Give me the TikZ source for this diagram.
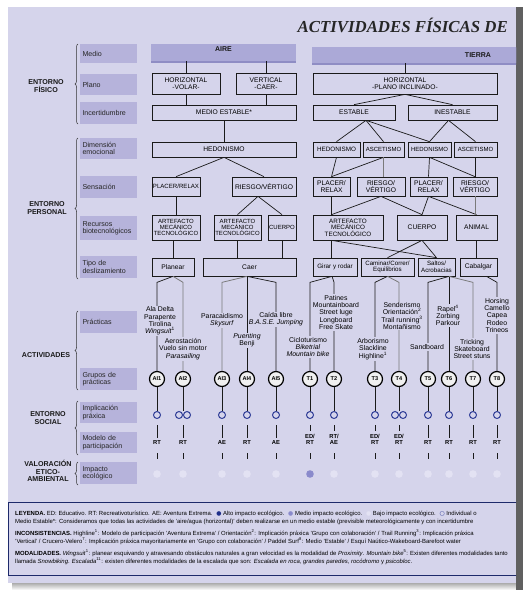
\documentclass[tikz,border=0pt]{standalone}
\usepackage{fontspec}
\setmainfont{Liberation Sans}
\newfontfamily\titlefont{Liberation Serif}
\newfontfamily\symfont{DejaVu Sans}
\usetikzlibrary{calc,decorations.pathreplacing}
\definecolor{bgc}{HTML}{D5D4EB}
\definecolor{labc}{HTML}{B6B3DB}
\definecolor{headc}{HTML}{ABA9D7}
\definecolor{headsh}{HTML}{8F8DC4}
\definecolor{ringc}{HTML}{2E3C96}
\definecolor{navy}{HTML}{1E2A6B}
\definecolor{lowc}{HTML}{E3E2F3}
\definecolor{medc}{HTML}{8A8ACB}
\definecolor{altc}{HTML}{1F2F8A}
\definecolor{linec}{HTML}{1A1A1A}
\definecolor{greyl}{HTML}{7A7A7A}
\begin{document}
\begin{tikzpicture}[x=1pt,y=-1pt,
  bx/.style={draw=linec, line width=0.7pt, fill=bgc, inner sep=0pt, align=center, font=\fontsize{6.7}{7}\selectfont},
  lab/.style={fill=labc, text width=52, align=left, inner xsep=2.5pt, inner ysep=0pt, font=\fontsize{7.1}{7.4}\selectfont, text=black!85},
  head/.style={fill=headc, inner sep=0pt},
  headt/.style={font=\bfseries\fontsize{7}{7}\selectfont, text=black!90, inner sep=0.5pt},
  grp/.style={circle, draw=black, line width=1.2pt, fill=gray!12, minimum size=15, inner sep=0pt, font=\bfseries\fontsize{5.6}{6}\selectfont},
  ring/.style={circle, draw=ringc, line width=1pt, minimum size=7, inner sep=0pt},
  mod/.style={inner xsep=0.5pt, inner ysep=3pt, align=center, font=\bfseries\fontsize{5.8}{6.3}\selectfont},
  dotc/.style={circle, fill=lowc, minimum size=7.6, inner sep=0pt},
  prac/.style={fill=bgc, inner sep=1pt, align=center, font=\fontsize{6.9}{7.3}\selectfont},
  conn/.style={draw=linec, line width=0.7pt},
  gconn/.style={draw=greyl, line width=0.8pt},
  grpl/.style={font=\bfseries\fontsize{7.1}{7.6}\selectfont, align=center, text=black!90},
  brc/.style={decorate, decoration={brace, amplitude=3pt}, line width=0.5pt, draw=black!80},
  legt/.style={anchor=base west, align=left, inner sep=0pt, font=\fontsize{5.95}{8}\selectfont}
]
\useasboundingbox (0,0) rectangle (523,595);
\fill[white] (0,0) rectangle (523,595);
% panel and shadows
\shade[top color=gray!65, bottom color=white] (12,583) rectangle (516,590);
\fill[bgc] (8,7) rectangle (516,583);
\fill[gray!75!black] (516,7) rectangle (523,590);

% title
\node[anchor=east, font=\titlefont\bfseries\itshape\fontsize{16.8}{17}\selectfont, text=black!85, inner sep=0pt] (title) at (508,25) {ACTIVIDADES FÍSICAS DE};

% row labels
\node[lab, minimum height=19] (lmed) at (108.5,53.5) {Medio};
\node[lab, minimum height=21] (lpla) at (108.5,84.5) {Plano};
\node[lab, minimum height=22] (linc) at (108.5,113) {Incertidumbre};
\node[lab, minimum height=21] (ldim) at (108.5,148.5) {Dimensión\\emocional};
\node[lab, minimum height=22] (lsen) at (108.5,187) {Sensación};
\node[lab, minimum height=24] (lrec) at (108.5,228) {Recursos\\biotecnológicos};
\node[lab, minimum height=22] (ltip) at (108.5,267) {Tipo de\\deslizamiento};
\node[lab, minimum height=22] (lpra) at (108.5,322) {Prácticas};
\node[lab, minimum height=22] (lgru) at (108.5,379) {Grupos de\\prácticas};
\node[lab, minimum height=21] (limp) at (108.5,412.5) {Implicación\\práxica};
\node[lab, minimum height=21] (lmod) at (108.5,442.5) {Modelo de\\participación};
\node[lab, minimum height=22] (lipa) at (108.5,473) {Impacto\\ecológico};

% group labels and braces
\node[grpl] (gfis) at (46,86) {ENTORNO\\FÍSICO};
\draw[brc] (78,124) -- (78,44);
\node[grpl] (gper) at (47,208) {ENTORNO\\PERSONAL};
\draw[brc] (78,279) -- (78,138);
\node[grpl] (gact) at (46,355) {ACTIVIDADES};
\draw[brc] (78,390) -- (78,311);
\node[grpl] (gsoc) at (48,418) {ENTORNO\\SOCIAL};
\draw[brc] (78,455) -- (78,401);
\node[grpl] (gval) at (48,471) {VALORACIÓN\\ETICO-\\AMBIENTAL};
\draw[brc] (78,485) -- (78,462);

% headers
\fill[headsh] (151,46) rectangle (296,62.5);
\node[head, minimum width=145, minimum height=17] (aire) at (223.5,52.5) {};
\node[headt] (airet) at ($(aire.north)+(0,5)$) {AIRE};
\begin{scope}
\clip (8,7) rectangle (516,583);
\fill[headsh] (312,48) rectangle (540,64.5);
\node[head, minimum width=228, minimum height=16] (tierra) at (426,55) {};
\end{scope}
\node[headt] (tierrat) at (478,55.5) {TIERRA};

% plano
\node[bx, minimum width=68, minimum height=21] (hv) at (186,83.5) {HORIZONTAL\\-VOLAR-};
\node[bx, minimum width=60, minimum height=21] (vc) at (266,83.5) {VERTICAL\\-CAER-};
\node[bx, minimum width=184, minimum height=21] (hpi) at (405,83.5) {HORIZONTAL\\-PLANO INCLINADO-};
% incertidumbre
\node[bx, minimum width=144, minimum height=15] (me) at (224,112.5) {MEDIO ESTABLE*};
\node[bx, minimum width=82, minimum height=15] (est) at (354,112.5) {ESTABLE};
\node[bx, minimum width=89, minimum height=15] (ine) at (452.5,112.5) {INESTABLE};
% dimension
\node[bx, minimum width=144, minimum height=15] (hA) at (224,149.5) {HEDONISMO};
\node[bx, minimum width=47, minimum height=15, font=\fontsize{6.3}{7}\selectfont] (h1) at (336.5,149.5) {HEDONISMO};
\node[bx, minimum width=41, minimum height=15, font=\fontsize{6.0}{7}\selectfont] (a1) at (383.5,149.5) {ASCETISMO};
\node[bx, minimum width=43, minimum height=15, font=\fontsize{6.0}{7}\selectfont] (h2) at (429.5,149.5) {HEDONISMO};
\node[bx, minimum width=43, minimum height=15, font=\fontsize{6.0}{7}\selectfont] (a2) at (475.5,149.5) {ASCETISMO};
% sensacion
\node[bx, minimum width=48, minimum height=19, font=\fontsize{6.1}{7}\selectfont] (pA) at (176,186.5) {PLACER/RELAX};
\node[bx, minimum width=64, minimum height=19] (rA) at (264,186.5) {RIESGO/VÉRTIGO};
\node[bx, minimum width=37, minimum height=19] (p1) at (331.5,186.5) {PLACER/\\RELAX};
\node[bx, minimum width=48, minimum height=19] (r1) at (381,186.5) {RIESGO/\\VÉRTIGO};
\node[bx, minimum width=37, minimum height=19] (p2) at (428.5,186.5) {PLACER/\\RELAX};
\node[bx, minimum width=44, minimum height=19] (r2) at (475,186.5) {RIESGO/\\VÉRTIGO};
% recursos
\node[bx, minimum width=48, minimum height=25, font=\fontsize{6.0}{6.4}\selectfont] (art1) at (176,227.5) {ARTEFACTO\\MECÁNICO\\TECNOLÓGICO};
\node[bx, minimum width=47, minimum height=25, font=\fontsize{6.0}{6.4}\selectfont] (art2) at (237.5,227.5) {ARTEFACTO\\MECÁNICO\\TECNOLÓGICO};
\node[bx, minimum width=28, minimum height=25, font=\fontsize{6.0}{6.4}\selectfont] (cuA) at (282,227.5) {CUERPO};
\node[bx, minimum width=70, minimum height=25, font=\fontsize{6.3}{6.6}\selectfont] (artT) at (348,227.5) {ARTEFACTO\\MECÁNICO\\TECNOLÓGICO};
\node[bx, minimum width=50, minimum height=25] (cuT) at (422,227.5) {CUERPO};
\node[bx, minimum width=41, minimum height=25] (an) at (476.5,227.5) {ANIMAL};
% tipo
\node[bx, minimum width=42, minimum height=18] (pl) at (173,267) {Planear};
\node[bx, minimum width=93, minimum height=18] (ca) at (249.5,267) {Caer};
\node[bx, minimum width=44, minimum height=18, font=\fontsize{6.3}{7}\selectfont] (gi) at (335,267) {Girar y rodar};
\node[bx, minimum width=53, minimum height=18, font=\fontsize{6.2}{6.6}\selectfont] (cm) at (387.5,267) {Caminar/Correr/\\Equilibrios};
\node[bx, minimum width=37, minimum height=18, font=\fontsize{6.2}{6.6}\selectfont] (sa) at (436.5,267) {Saltos/\\Acrobacias};
\node[bx, minimum width=37, minimum height=18] (cb) at (478.5,267) {Cabalgar};

% top connectors
\draw[conn] (aire.south -| hv.north) -- (hv.north);
\draw[conn] (aire.south -| vc.north) -- (vc.north);
\draw[conn] (tierra.south -| hpi.north) -- (hpi.north);
\draw[conn] (hv.south) -- (me.north -| hv.south);
\draw[conn] (vc.south) -- (me.north -| vc.south);
\draw[conn] (hpi.south) -- (est.north);
\draw[conn] (hpi.south) -- (ine.north);
\draw[conn] (me.south) -- (hA.north);
\draw[conn] ($(est.south)+(12,0)$) -- (h1.north);
\draw[conn] ($(est.south)+(12,0)$) -- (a1.north);
\draw[conn] ($(est.south)+(12,0)$) -- (h2.north);
\draw[conn] ($(ine.south)+(-4,0)$) -- (h2.north);
\draw[conn] ($(ine.south)+(-4,0)$) -- (a2.north);
% dim -> sens
\draw[conn] (hA.south) -- (pA.north);
\draw[conn] (hA.south) -- (rA.north);
\draw[conn] (h1.south) -- (p1.north);
\draw[conn] (a1.south) -- (p1.north);
\draw[gconn] (a1.south) -- (r1.north -| a1.south);
\draw[conn] (h2.south) -- (p2.north);
\draw[conn] (h2.south) -- (r2.north);
\draw[conn] (a2.south) -- (r2.north -| a2.south);
% sens -> rec
\draw[conn] (pA.south) -- (art1.north -| pA.south);
\draw[conn] ($(rA.south)+(-6,0)$) -- (art2.north);
\draw[conn] ($(rA.south)+(-6,0)$) -- (cuA.north);
\draw[conn] (p1.south) -- (artT.north -| p1.south);
\draw[conn] (r1.south) -- (artT.north -| p1.south);
\draw[conn] (r1.south) -- (cuT.north);
\draw[conn] (p2.south) -- (cuT.north);
\draw[conn] (p2.south) -- (an.north);
\draw[gconn] (r2.south) -- (an.north -| r2.south);
% rec -> tipo
\draw[conn] (art1.south -| pl.north) -- (pl.north);
\draw[conn] (art2.south) -- (ca.north -| art2.south);
\draw[conn] (cuA.south) -- (ca.north -| cuA.south);
\draw[conn] (artT.south -| p1.south) -- (gi.north -| p1.south);
\draw[conn] (artT.south -| p1.south) -- (sa.north);
\draw[conn] (cuT.south) -- (cm.north);
\draw[conn] (cuT.south) -- (sa.north);
\draw[conn] (an.south) -- (cb.north -| an.south);

% group circles
\foreach \n/\x/\t in {ai1/157/AI1, ai2/183/AI2, ai3/222/AI3, ai4/247/AI4, ai5/276/AI5, t1/310/T1, t2/334/T2, t3/375/T3, t4/399/T4, t5/428/T5, t6/449/T6, t7/473/T7, t8/497/T8}
  \node[grp] (\n) at (\x,379) {\t};

% tipo -> practicas brackets
\draw[conn] (pl.south) -- ($(pl.south -| ai1)+(0,6)$) -- (ai1.north);
\draw[gconn] (pl.south) -- ($(pl.south -| ai2)+(0,6)$) -- (ai2.north);
\draw[gconn] (ca.south -| ai4) -- ($(ca.south -| ai3)+(0,6)$) -- (ai3.north);
\draw[conn] (ca.south -| ai4) -- (ai4.north);
\draw[conn] (ca.south -| ai4) -- ($(ca.south -| ai5)+(0,6)$) -- (ai5.north);
\draw[conn] ($(gi.south)+(-3,0)$) -- ($(gi.south -| t1)+(0,6)$) -- (t1.north);
\draw[conn] ($(gi.south)+(-3,0)$) -- ($(gi.south -| t2)+(0,6)$) -- (t2.north);
\draw[conn] (cm.south) -- ($(cm.south -| t3)+(0,6)$) -- (t3.north);
\draw[gconn] (cm.south) -- ($(cm.south -| t4)+(0,6)$) -- (t4.north);
\draw[conn] (sa.south -| t6) -- ($(sa.south -| t5)+(0,6)$) -- (t5.north);
\draw[conn] (sa.south -| t6) -- (t6.north);
\draw[gconn] (sa.south -| t6) -- ($(sa.south -| t7)+(0,6)$) -- (t7.north);
\draw[conn] ($(cb.south)+(8,0)$) -- ($(cb.south -| t8)+(0,6)$) -- (t8.north);

% practicas texts
\node[prac] (xai1) at (160,321) {Ala Delta\\Parapente\\Tirolina\\\textit{Wingsuit}\textsuperscript{1}};
\node[prac] (xai2) at (183,349) {Aerostación\\Vuelo sin motor\\\textit{Parasailing}};
\node[prac] (xai3) at (222,320.5) {Paracaidismo\\\textit{Skysurf}};
\node[prac] (xai4) at (247,340.5) {\textit{Puenting}\\Benji};
\node[prac] (xai5) at (276,319.5) {Caída libre\\\textit{B.A.S.E. Jumping}};
\node[prac] (xt1) at (308,347) {Cicloturismo\\\textit{Biketrial}\\\textit{Mountain bike}};
\node[prac] (xt2) at (336,312.5) {Patines\\Mountainboard\\Street luge\\Longboard\\Free Skate};
\node[prac] (xt3) at (373,349) {Arborismo\\Slackline\\Highline\textsuperscript{1}};
\node[prac] (xt4) at (402,316) {Senderismo\\Orientación\textsuperscript{2}\\Trail running\textsuperscript{3}\\Montañismo};
\node[prac] (xt5) at (427,347) {Sandboard};
\node[prac] (xt6) at (448,315.5) {Rapel\textsuperscript{4}\\Zorbing\\Parkour};
\node[prac] (xt7) at (472,349) {Tricking\\Skateboard\\Street stuns};
\node[prac] (xt8) at (497,315.5) {Horsing\\Camello\\Capea\\Rodeo\\Trineos};

% implicacion praxica
\foreach \n/\x in {ai1/157, ai3/222, ai4/247, ai5/276, t1/310, t2/334, t3/375, t5/428, t6/449, t7/473, t8/497}
  \node[ring] (i\n) at (\x,415) {};
\node[ring, draw=none] (iai2) at (183,415) {};
\node[ring] (iai2a) at (179,415) {};
\node[ring] (iai2b) at (187,415) {};
\node[ring, draw=none] (it4) at (399,415) {};
\node[ring] (it4a) at (395,415) {};
\node[ring] (it4b) at (403,415) {};
\foreach \n in {ai1,ai2,ai3,ai4,ai5,t1,t2,t3,t4,t5,t6,t7,t8}
  \draw[conn] (\n.south) -- (i\n.north);

% modelo de participacion
\foreach \n/\x/\t in {ai1/157/RT, ai2/183/RT, ai3/222/AE, ai4/247/RT, ai5/276/AE, t1/310/{ED/\\RT}, t2/334/{RT/\\AE}, t3/375/{ED/\\RT}, t4/399/{ED/\\RT}, t5/428/RT, t6/449/RT, t7/473/RT, t8/497/RT}
{
  \node[mod, anchor=south] (m\n) at (\x,448) {\t};
  \draw[conn] ($(i\n.south)+(0,6)$) -- (m\n.north);
  \draw[conn] ($(m\n.south)+(0,5)$) -- ++(0,6);
}

% impacto ecologico
\foreach \n/\x in {ai1/157, ai2/183, ai3/222, ai4/247, ai5/276, t2/334, t3/375, t4/399, t5/428, t6/449, t7/473, t8/497}
  \node[dotc] (d\n) at (\x,474) {};
\node[dotc, fill=medc] (dt1) at (310,474) {};

% legend
\begin{scope}
\clip (8,7) rectangle (516,583);
\draw[navy, line width=0.9pt] (8.5,502) rectangle (540,575);
\node[legt] (leg1) at (15,523) {\textbf{LEYENDA.} ED: Educativo. RT: Recreativoturístico. AE: Aventura Extrema. \ {\symfont\color{altc}●} Alto impacto ecológico. \ {\symfont\color{medc}●} Medio impacto ecológico. \ {\symfont\color{lowc}●} Bajo impacto ecológico. \ {\symfont\color{ringc}○} Individual o\\Medio Estable*: Consideramos que todas las actividades de 'aire/agua (horizontal)' deben realizarse en un medio estable (previsible meteorológicamente y con incertidumbre};
\node[legt] (leg2) at (15,543) {\textbf{INCONSISTENCIAS.} Highline\textsuperscript{1}: Modelo de participación 'Aventura Extrema' / Orientación\textsuperscript{2}: Implicación práxica 'Grupo con colaboración' / Trail Running\textsuperscript{3}: Implicación práxica\\'Vertical' / Crucero-Velero\textsuperscript{7}: Implicación práxica mayoritariamente en 'Grupo con colaboración' / Paddel Surf\textsuperscript{8}: Medio 'Estable' / Esquí Naútico-Wakeboard-Barefoot water};
\node[legt] (leg3) at (15,563) {\textbf{MODALIDADES.} \textit{Wingsuit}\textsuperscript{1}: planear esquivando y atravesando obstáculos naturales a gran velocidad es la modalidad de \textit{Proximity}. \textit{Mountain bike}\textsuperscript{5}: Existen diferentes modalidades tanto\\llamada \textit{Snowbiking}. \textit{Escalada}\textsuperscript{11}: existen diferentes modalidades de la escalada que son: \textit{Escalada en roca}, \textit{grandes paredes}, \textit{rocódromo} y \textit{psicobloc}.};
\end{scope}
\end{tikzpicture}
\end{document}
